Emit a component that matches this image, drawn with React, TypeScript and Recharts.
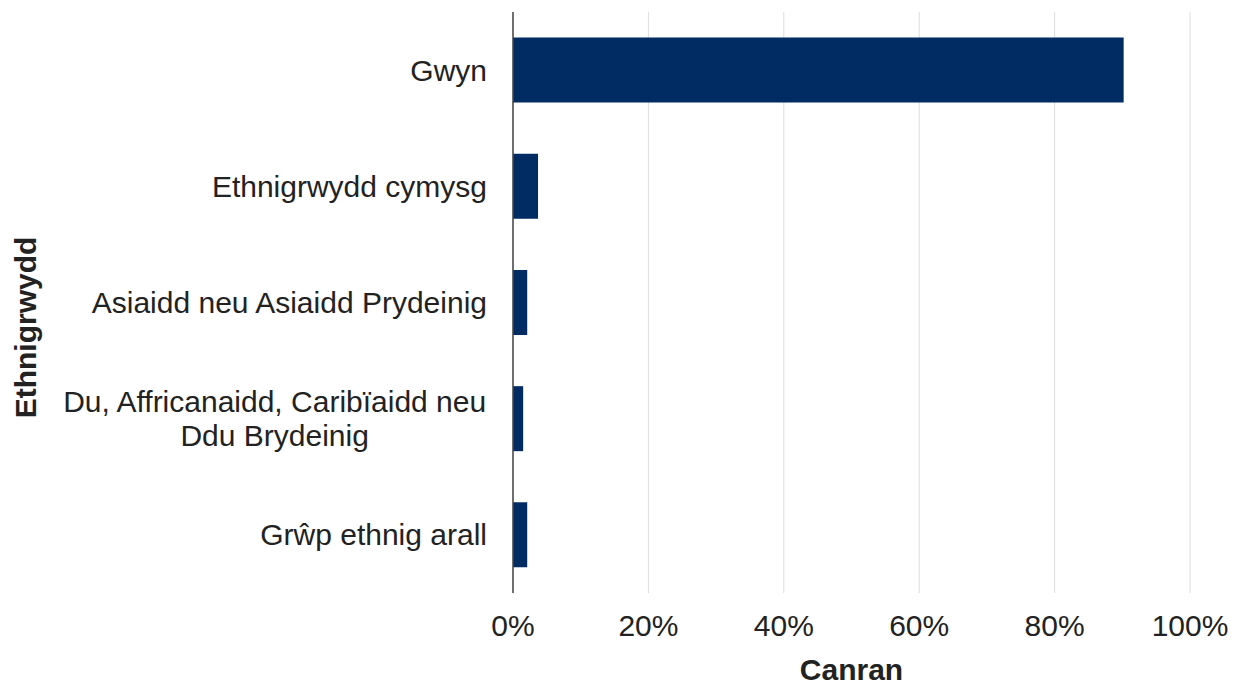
import { BarChart, Bar, XAxis, YAxis, CartesianGrid, Label } from "recharts"

const categories = [
  "Gwyn",
  "Ethnigrwydd cymysg",
  "Asiaidd neu Asiaidd Prydeinig",
  "Du, Affricanaidd, Caribïaidd neu\nDdu Brydeinig",
  "Grŵp ethnig arall",
]
const percentages = [90.2, 3.7, 2.1, 1.5, 2.1]
const xTicks = [0, 20, 40, 60, 80, 100]

const FONT = "'Liberation Sans', Arial, sans-serif"
const TEXT_COLOR = "#222"
const BAR_COLOR = "#002b63"

const chartData = categories.map((name, i) => ({ name, value: percentages[i] }))

let ctx: CanvasRenderingContext2D | null = null
function textWidth(s: string) {
  if (!ctx) ctx = document.createElement("canvas").getContext("2d")
  if (!ctx) return s.length * 15
  ctx.font = `30px ${FONT}`
  return ctx.measureText(s).width
}

const CategoryTick = ({ x, y, payload }: { x?: number; y?: number; payload?: { value: string } }) => {
  const lines = String(payload?.value ?? "").split("\n")
  const px = x ?? 0
  const py = y ?? 0
  if (lines.length === 1) {
    return (
      <text x={px} y={py} dy="0.35em" textAnchor="end" fontSize={30} fontFamily={FONT} fill={TEXT_COLOR}>
        {lines[0]}
      </text>
    )
  }
  const widest = Math.max(...lines.map(textWidth))
  const cx = px - widest / 2
  const lineHeight = 34.3
  const start = py - ((lines.length - 1) * lineHeight) / 2
  return (
    <text textAnchor="middle" fontSize={30} fontFamily={FONT} fill={TEXT_COLOR}>
      {lines.map((l, i) => (
        <tspan key={i} x={cx} y={start + i * lineHeight} dy="0.35em">
          {l}
        </tspan>
      ))}
    </text>
  )
}

export default function App() {
  return (
    <div style={{ position: "absolute", left: 0, top: 0, background: "#fff" }}>
      <BarChart
        width={1239}
        height={688}
        data={chartData}
        layout="vertical"
        margin={{ top: 12, right: 49, left: 0, bottom: 0 }}
        barCategoryGap="22%"
      >
        <CartesianGrid horizontal={false} stroke="#dcdcdc" strokeWidth={1} />
        <XAxis
          type="number"
          domain={[0, 100]}
          ticks={xTicks}
          tickFormatter={(v: number) => `${v}%`}
          axisLine={false}
          tickLine={false}
          tickSize={0}
          tickMargin={22}
          height={95}
          tick={{ fontSize: 30, fontFamily: FONT, fill: TEXT_COLOR }}
          interval={0}
        >
          <Label
            content={({ viewBox }: any) => (
              <text
                x={viewBox.x + viewBox.width / 2}
                y={viewBox.y + viewBox.height - 8}
                textAnchor="middle"
                fontSize={30}
                fontWeight="bold"
                fontFamily={FONT}
                fill={TEXT_COLOR}
              >
                Canran
              </text>
            )}
          />
        </XAxis>
        <YAxis
          type="category"
          dataKey="name"
          width={513}
          axisLine={{ stroke: "#444", strokeWidth: 1.5 }}
          tickLine={false}
          tickSize={0}
          tickMargin={26}
          tick={<CategoryTick />}
          interval={0}
        >
          <Label
            content={({ viewBox }: any) => {
              const lx = viewBox.x + 36
              const ly = viewBox.y + viewBox.height / 2 + 25
              return (
                <text
                  x={lx}
                  y={ly}
                  transform={`rotate(-90, ${lx}, ${ly})`}
                  textAnchor="middle"
                  fontSize={30}
                  fontWeight="bold"
                  fontFamily={FONT}
                  fill={TEXT_COLOR}
                >
                  Ethnigrwydd
                </text>
              )
            }}
          />
        </YAxis>
        <Bar dataKey="value" fill={BAR_COLOR} isAnimationActive={false} />
      </BarChart>
    </div>
  )
}
